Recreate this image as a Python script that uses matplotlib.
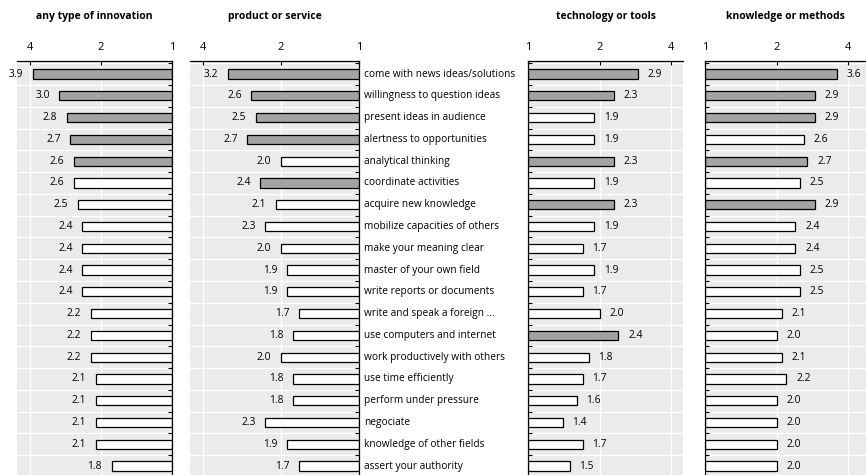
import numpy as np
import matplotlib.pyplot as plt
from matplotlib.ticker import FixedLocator, NullFormatter

plt.rcParams['font.family'] = ['Open Sans', 'DejaVu Sans']

# ---------------------------------------------------------------------------
# datos
# ---------------------------------------------------------------------------
skills = [
    "come with news ideas/solutions", "willingness to question ideas",
    "present ideas in audience", "alertness to opportunities",
    "analytical thinking", "coordinate activities", "acquire new knowledge",
    "mobilize capacities of others", "make your meaning clear",
    "master of your own field", "write reports or documents",
    "write and speak a foreign \u2026", "use computers and internet",
    "work productively with others", "use time efficiently",
    "perform under pressure", "negociate", "knowledge of other fields",
    "assert your authority",
]

titles = ["any type of innovation", "product or service",
          "technology or tools", "knowledge or methods"]

any_type = [3.9, 3.0, 2.8, 2.7, 2.6, 2.6, 2.5, 2.4, 2.4, 2.4,
            2.4, 2.2, 2.2, 2.2, 2.1, 2.1, 2.1, 2.1, 1.8]
product = [3.2, 2.6, 2.5, 2.7, 2.0, 2.4, 2.1, 2.3, 2.0, 1.9,
           1.9, 1.7, 1.8, 2.0, 1.8, 1.8, 2.3, 1.9, 1.7]
technology = [2.9, 2.3, 1.9, 1.9, 2.3, 1.9, 2.3, 1.9, 1.7, 1.9,
              1.7, 2.0, 2.4, 1.8, 1.7, 1.6, 1.4, 1.7, 1.5]
knowledge = [3.6, 2.9, 2.9, 2.6, 2.7, 2.5, 2.9, 2.4, 2.4, 2.5,
             2.5, 2.1, 2.0, 2.1, 2.2, 2.0, 2.0, 2.0, 2.0]

# filas destacadas (barra gris)
highlight_any = [0, 1, 2, 3, 4]
highlight_product = [0, 1, 2, 3, 5]
highlight_technology = [0, 1, 4, 6, 12]
highlight_knowledge = [0, 1, 2, 4, 6]

x_ticks = [1, 2, 4]

# ---------------------------------------------------------------------------
# figura
# ---------------------------------------------------------------------------
W, H = 866, 475
fig = plt.figure(figsize=(W / 100, H / 100), dpi=100)

top_px = 61
ax_h = (H - top_px) / H

# (left_px, width_px, xlim, invertido, valores, destacados)
panels = [
    (17, 155, (4.54, 1), True, any_type, highlight_any),
    (190, 169, (4.49, 1), True, product, highlight_product),
    (528, 155, (1, 4.49), False, technology, highlight_technology),
    (705, 161, (1, 4.76), False, knowledge, highlight_knowledge),
]

bg = "#ebebeb"
gray = "#a3a3a3"
n = len(skills)
y = np.arange(n)

axes = []
for k, (lpx, wpx, xl, rev, vals, hl) in enumerate(panels):
    ax = fig.add_axes([lpx / W, 0, wpx / W, ax_h])
    axes.append(ax)
    ax.set_facecolor(bg)
    ax.set_xscale("log", base=2)
    ax.set_xlim(*xl)
    ax.set_ylim(n - 0.59, -0.6)

    # rejilla
    for t in x_ticks:
        ax.axvline(t, color="white", lw=1.0, zorder=0.5)
    for b in np.arange(-0.5, n + 0.5, 1):
        ax.axhline(b, color="white", lw=1.0, zorder=0.5)

    colors = [gray if i in hl else "white" for i in range(n)]
    widths = [v - 1 for v in vals]
    # sombra ligera
    ax.barh(y + 0.04, widths, left=1, height=0.42, color="#9a9a9a",
            edgecolor="none", zorder=1.5)
    ax.barh(y, widths, left=1, height=0.42, color=colors,
            edgecolor="black", linewidth=0.9, zorder=2)

    for i, v in enumerate(vals):
        if rev:
            ax.annotate(f"{v:.1f}", (v, i), xytext=(-7, 0),
                        textcoords="offset points", ha="right", va="center",
                        fontsize=7.4, annotation_clip=False)
        else:
            ax.annotate(f"{v:.1f}", (v, i), xytext=(7, 0),
                        textcoords="offset points", ha="left", va="center",
                        fontsize=7.4, annotation_clip=False)

    ax.xaxis.tick_top()
    ax.xaxis.set_major_locator(FixedLocator(x_ticks))
    ax.xaxis.set_minor_locator(FixedLocator([]))
    ax.set_xticklabels([str(t) for t in x_ticks])
    ax.tick_params(axis="x", direction="in", length=3, width=0.8,
                   pad=6, labelsize=8, colors="black")

    ax.yaxis.set_major_locator(FixedLocator(np.arange(-0.5, n + 0.5, 1)))
    ax.yaxis.set_major_formatter(NullFormatter())
    if rev:
        ax.yaxis.tick_right()
    else:
        ax.yaxis.tick_left()
    ax.tick_params(axis="y", direction="in", length=3, width=0.8)

    for s in ax.spines.values():
        s.set_visible(False)
    ax.spines["top"].set_visible(True)
    ax.spines["top"].set_linewidth(0.9)
    side = "right" if rev else "left"
    ax.spines[side].set_visible(True)
    ax.spines[side].set_linewidth(0.9)

    fig.text((lpx + wpx / 2) / W, 1 - 16 / H, titles[k], ha="center",
             va="center", fontsize=7.5, fontweight="bold")

# etiquetas de las habilidades
ax2 = axes[1]
for i, s in enumerate(skills):
    ax2.text(1.03, i, s, transform=ax2.get_yaxis_transform(), ha="left",
             va="center", fontsize=7.3, clip_on=False)

fig.savefig("out.png", dpi=100)
